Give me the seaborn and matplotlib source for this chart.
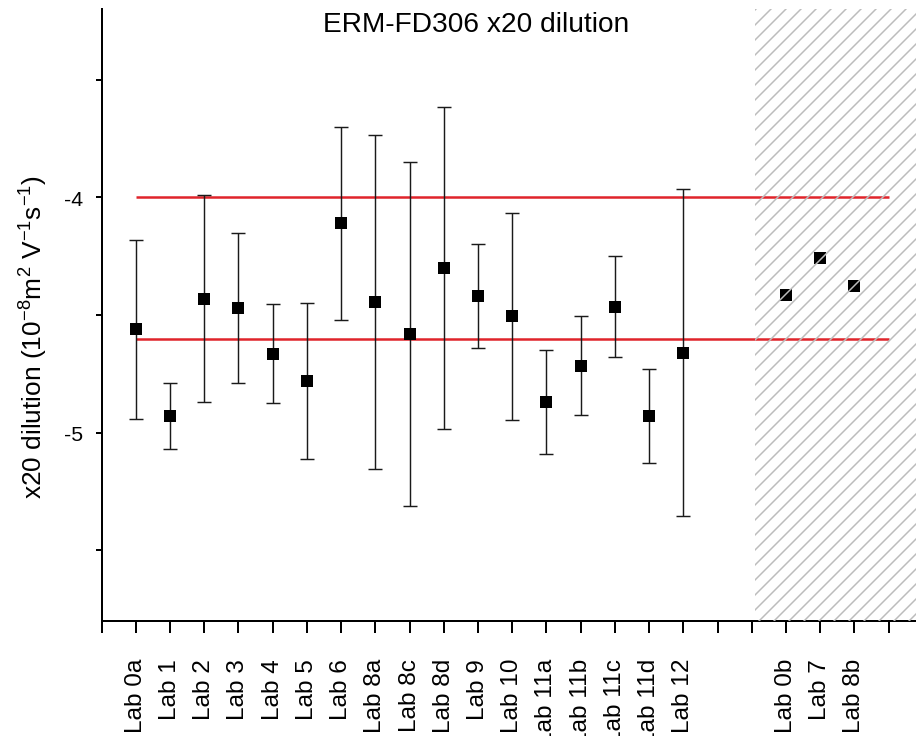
import numpy as np
import pandas as pd
import matplotlib
matplotlib.use("Agg")
import matplotlib.pyplot as plt
import seaborn as sns

# Participating laboratories (included in the evaluation)
labs = ["Lab 0a", "Lab 1", "Lab 2", "Lab 3", "Lab 4", "Lab 5", "Lab 6",
        "Lab 8a", "Lab 8c", "Lab 8d", "Lab 9", "Lab 10", "Lab 11a",
        "Lab 11b", "Lab 11c", "Lab 11d", "Lab 12"]
mobility = [-4.56, -4.93, -4.43, -4.47, -4.665, -4.78, -4.11,
            -4.445, -4.58, -4.30, -4.42, -4.505, -4.87,
            -4.715, -4.465, -4.93, -4.66]
uncertainty = [0.38, 0.14, 0.44, 0.32, 0.21, 0.33, 0.41,
               0.71, 0.73, 0.685, 0.22, 0.44, 0.22,
               0.21, 0.215, 0.20, 0.695]

# Laboratories excluded from the evaluation (shown in the hatched area)
excluded_labs = ["Lab 0b", "Lab 7", "Lab 8b"]
excluded_mobility = [-4.415, -4.257, -4.378]

# Acceptance range limits
upper_limit = -4.00
lower_limit = -4.60

# Category slots on the x axis (two empty slots between the groups)
lab_pos = list(range(1, len(labs) + 1))
excluded_pos = [20, 21, 22]
tick_pos = list(range(0, 24))
tick_labels = [""] * len(tick_pos)
for p, name in zip(lab_pos, labs):
    tick_labels[p] = name
for p, name in zip(excluded_pos, excluded_labs):
    tick_labels[p] = name

df = pd.DataFrame({"pos": lab_pos, "value": mobility, "err": uncertainty, "lab": labs})
df_ex = pd.DataFrame({"pos": excluded_pos, "value": excluded_mobility, "lab": excluded_labs})

sns.set_theme(style="ticks")
plt.rcParams["font.family"] = ["Liberation Sans", "DejaVu Sans"]
plt.rcParams["mathtext.fontset"] = "custom"
plt.rcParams["mathtext.rm"] = "Liberation Sans"
plt.rcParams["mathtext.it"] = "Liberation Sans"
plt.rcParams["hatch.linewidth"] = 1.2
plt.rcParams["text.color"] = "black"
plt.rcParams["axes.labelcolor"] = "black"
plt.rcParams["xtick.color"] = "black"
plt.rcParams["ytick.color"] = "black"

DPI = 90
fig = plt.figure(figsize=(916 / DPI, 737 / DPI), dpi=DPI)
ax = fig.add_axes([101.5 / 916, 115 / 737, (916 - 101.5) / 916, 612 / 737])

# acceptance range lines
for lim in (upper_limit, lower_limit):
    ax.plot([1, 23], [lim, lim], color="#e0242b", lw=2.0, zorder=2, solid_capstyle="butt")

# error bars and markers
ax.errorbar(df["pos"], df["value"], yerr=df["err"], fmt="none",
            ecolor="#1a1a1a", elinewidth=1.15, capsize=5.7, capthick=1.15, zorder=3)
sns.scatterplot(data=df, x="pos", y="value", marker="s", s=90, color="black",
                edgecolor="black", linewidth=0, zorder=4, ax=ax, legend=False)
sns.scatterplot(data=df_ex, x="pos", y="value", marker="s", s=90, color="black",
                edgecolor="black", linewidth=0, zorder=4, ax=ax, legend=False)

# hatched area for excluded results
ax.axvspan(19.1, 24, facecolor="none", edgecolor="#bcbcbc", hatch="//", lw=0, zorder=6)

ax.set_xlim(0, 23.8)
ax.set_ylim(-5.8, -3.2)
ax.set_xticks(tick_pos)
ax.set_xticklabels(tick_labels, rotation=90, fontsize=19.5)
ax.set_yticks([-5, -4])
ax.set_yticklabels(["-5", "-4"], fontsize=17)
ax.set_yticks([-5.5, -4.5, -3.5], minor=True)
ax.set_xlabel("")
ax.set_ylabel(r"x20 dilution (10$^{-8}$m$^{2}$ V$^{-1}$s$^{-1}$)", fontsize=21)
ax.yaxis.set_label_coords(-0.063, 0.465)

for s in ("top", "right"):
    ax.spines[s].set_visible(False)
for s in ("left", "bottom"):
    ax.spines[s].set_linewidth(1.6)
    ax.spines[s].set_color("black")
ax.tick_params(axis="x", direction="out", length=9.5, width=1.6, pad=20, colors="black")
ax.tick_params(axis="y", which="both", direction="out", length=4.8, width=1.6, pad=10, colors="black")
ax.grid(False)

fig.text(476 / 916, 1 - 32.5 / 737, "ERM-FD306 x20 dilution", ha="center", va="baseline", fontsize=22.5)

fig.savefig("out.png", dpi=DPI, facecolor="white")
